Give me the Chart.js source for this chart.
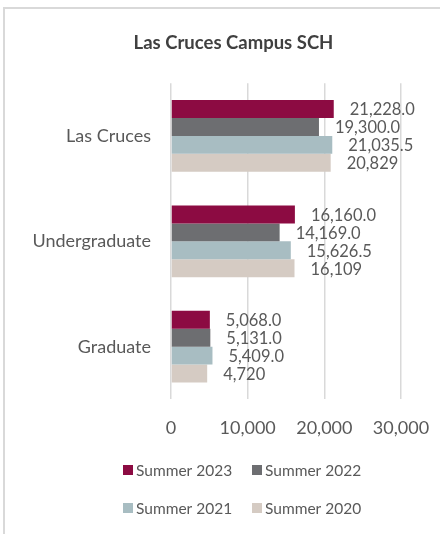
<!DOCTYPE html>
<html>
<head>
<meta charset="utf-8">
<script src="https://cdn.jsdelivr.net/npm/chart.js@4.4.1/dist/chart.umd.min.js"></script>
<style>
  html, body { margin: 0; padding: 0; background: #fff; }
  #wrap { position: relative; width: 440px; height: 534px; }
  #frame { position: absolute; left: 3px; top: 7px; right: 0; bottom: 0;
           border-left: 2px solid #d9d9d9; border-top: 2px solid #d9d9d9; pointer-events: none; }
</style>
</head>
<body>
<div id="wrap">
  <canvas id="schChart" width="440" height="534"></canvas>
  <div id="frame"></div>
</div>
<script>
// Danh mục và dữ liệu
var categories = ["Las Cruces", "Undergraduate", "Graduate"];
var seriesNames = ["Summer 2023", "Summer 2022", "Summer 2021", "Summer 2020"];
var summer2023 = [21228.0, 16160.0, 5068.0];
var summer2022 = [19300.0, 14169.0, 5131.0];
var summer2021 = [21035.5, 15626.5, 5409.0];
var summer2020 = [20829, 16109, 4720];
var labelDecimals = [1, 1, 1, 0];
var xTicks = [0, 10000, 20000, 30000];

var colors = ["#8c0b42", "#6d6e71", "#a8bdc2", "#d5cbc3"];
var font = "Lato, 'Open Sans', sans-serif";

function fmt(v, d) {
    return v.toLocaleString("en-US", { minimumFractionDigits: d, maximumFractionDigits: d });
}

// Nhãn giá trị bên phải thanh
var valueLabels = {
    id: "valueLabels",
    afterDatasetsDraw: function (chart) {
        var ctx = chart.ctx;
        ctx.save();
        ctx.font = "16.5px " + font;
        ctx.fillStyle = "#595959";
        ctx.textBaseline = "middle";
        ctx.textAlign = "left";
        chart.data.datasets.forEach(function (ds, i) {
            chart.getDatasetMeta(i).data.forEach(function (bar, j) {
                ctx.fillText(fmt(ds.data[j], labelDecimals[i]), bar.x + 16, bar.y + 1);
            });
        });
        ctx.restore();
    }
};

// Chú thích 2 dòng
var twoRowLegend = {
    id: "twoRowLegend",
    afterDraw: function (chart) {
        var ctx = chart.ctx;
        ctx.save();
        ctx.font = "15.5px " + font;
        ctx.textBaseline = "middle";
        var cols = [123, 252];
        var rows = [470, 508];
        chart.data.datasets.forEach(function (ds, i) {
            var x = cols[i % 2], y = rows[Math.floor(i / 2)];
            ctx.fillStyle = ds.backgroundColor;
            ctx.fillRect(x, y - 5, 10, 10);
            ctx.fillStyle = "#595959";
            ctx.fillText(ds.label, x + 13, y + 1);
        });
        ctx.restore();
    }
};

// Dời tiêu đề sang phải một chút
var shiftTitle = {
    id: "shiftTitle",
    afterLayout: function (chart) {
        if (chart.titleBlock) { chart.titleBlock.left += 28; }
    }
};

var allSeries = [summer2023, summer2022, summer2021, summer2020];

var ctx = document.getElementById("schChart").getContext("2d");
var myChart = new Chart(ctx, {
    type: "bar",
    data: {
        labels: categories,
        datasets: seriesNames.map(function (name, i) {
            return {
                label: name,
                data: allSeries[i],
                backgroundColor: colors[i],
                borderWidth: 0,
                barPercentage: 1.0,
                categoryPercentage: 0.68
            };
        })
    },
    options: {
        indexAxis: "y",
        responsive: false,
        animation: false,
        devicePixelRatio: 1,
        layout: { padding: { left: 0, right: 1, top: 22, bottom: 77 } },
        plugins: {
            legend: { display: false },
            tooltip: { enabled: false },
            title: {
                display: true,
                text: "Las Cruces Campus SCH",
                color: "#404040",
                font: { family: font, size: 18.5, weight: "bold" },
                padding: { top: 10, bottom: 29 }
            }
        },
        scales: {
            x: {
                min: 0,
                max: 30000,
                afterBuildTicks: function (axis) {
                    axis.ticks = xTicks.map(function (v) { return { value: v }; });
                },
                afterFit: function (axis) { axis.paddingRight = 39; },
                grid: { color: "#d9d9d9", lineWidth: 1.5, drawTicks: false },
                border: { display: false },
                ticks: {
                    color: "#595959",
                    padding: 18,
                    font: { family: font, size: 18 },
                    callback: function (v) { return fmt(v, 0); }
                }
            },
            y: {
                afterFit: function (axis) { axis.width = 171; },
                grid: { display: false, drawTicks: false },
                border: { display: false },
                ticks: {
                    color: "#595959",
                    padding: 20,
                    font: { family: font, size: 18 }
                }
            }
        }
    },
    plugins: [valueLabels, twoRowLegend, shiftTitle]
});
</script>
</body>
</html>
